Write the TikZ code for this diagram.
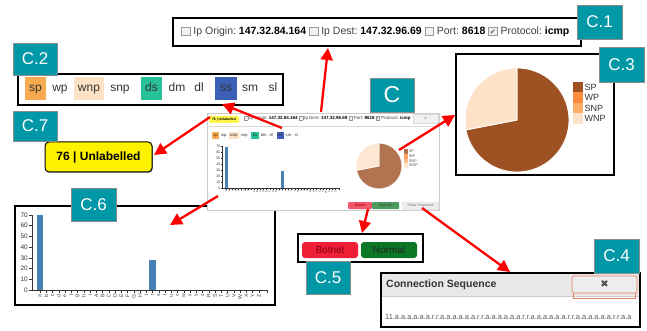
\documentclass[tikz,border=0pt]{standalone}
\usepackage{fontspec}
\setmainfont{Liberation Sans}
\newfontfamily\symfont{DejaVu Sans}
\usetikzlibrary{arrows.meta,shadows}

\definecolor{tealtag}{RGB}{0,151,167}
\definecolor{spc}{RGB}{248,170,80}
\definecolor{wnpc}{RGB}{253,227,196}
\definecolor{dsc}{RGB}{40,192,152}
\definecolor{ssc}{RGB}{60,96,182}
\definecolor{pieSP}{RGB}{158,82,36}
\definecolor{pieWP}{RGB}{253,141,60}
\definecolor{pieSNP}{RGB}{253,174,107}
\definecolor{pieWNP}{RGB}{253,226,200}
\definecolor{barc}{RGB}{70,130,180}
\definecolor{arrowred}{RGB}{255,0,0}
\definecolor{btnred}{RGB}{240,30,55}
\definecolor{btngreen}{RGB}{12,120,38}
\definecolor{btnredtext}{RGB}{130,0,15}
\definecolor{closeedge}{RGB}{228,128,100}

% small form checkboxes, sized relative to the current font
\newcommand\cbx{{\fboxsep=0pt\fboxrule=0.07em\raisebox{-0.05em}{\fcolorbox{black!40}{black!6}{\vrule width 0pt height 0.75em\hspace{0.75em}}}}}
\newcommand\cbxchk{\rlap{\cbx}\hbox to 0.89em{\hss\textcolor{black!60}{\symfont\scalebox{0.7}{✔}}\hss}}
\newcommand\hdrtext{\textcolor{black!75}{\cbx\ Ip Origin:\ \textcolor{black}{\textbf{147.32.84.164}}\ \cbx\ Ip Dest:\ \textcolor{black}{\textbf{147.32.96.69}}\ \cbx\ Port:\ \textcolor{black}{\textbf{8618}}\ \cbxchk\ Protocol:\ \textcolor{black}{\textbf{icmp}}}}

\tikzset{
  teallab/.style={fill=tealtag, draw=black!45, line width=0.5pt, text=white,
    font=\fontsize{17}{17}\selectfont, inner sep=0pt},
  panel/.style={draw=black, line width=1.2pt, fill=white, inner sep=0pt,
    drop shadow={shadow xshift=0.9pt, shadow yshift=-0.9pt, opacity=0.55, fill=black!70}},
  tagcell/.style={inner sep=0pt, minimum height=23pt, font=\fontsize{12}{12}\selectfont,
    text=black!80, text height=8.7pt, text depth=2.5pt},
  ytick/.style={anchor=east, inner sep=0.5pt, font=\fontsize{6.5}{6.5}\selectfont, text=black!80},
  xlab/.style={anchor=east, rotate=90, inner sep=0.5pt, font=\fontsize{5.2}{5.2}\selectfont, text=black!75},
  legtext/.style={anchor=west, inner sep=0.5pt, font=\fontsize{9}{9}\selectfont, text=black!80},
  redarrow/.style={draw=arrowred, line width=2.3pt, -{Triangle[length=12pt,width=12pt]}},
  tinytext/.style={font=\fontsize{3.6}{3.6}\selectfont},
  % row of label tags
  tagrow/.pic={
    \node[tagcell,fill=spc,minimum width=21pt] (sp) at (0,0) {sp};
    \node[tagcell] (wp) at (24.5,0) {wp};
    \node[tagcell,fill=wnpc,minimum width=30pt] (wnp) at (53.5,0) {wnp};
    \node[tagcell] (snp) at (84.5,0) {snp};
    \node[tagcell,fill=dsc,minimum width=21pt] (ds) at (116,0) {ds};
    \node[tagcell] (dm) at (141.5,0) {dm};
    \node[tagcell] (dl) at (163.5,0) {dl};
    \node[tagcell,fill=ssc,minimum width=22pt] (ss) at (190.5,0) {ss};
    \node[tagcell] (sm) at (214.5,0) {sm};
    \node[tagcell] (sl) at (237.5,0) {sl};
  },
  % letter histogram
  barchart/.pic={
    \fill[barc] (5,0) rectangle (11,-75);
    \fill[barc] (117,0) rectangle (124,-30);
    \draw[black!80, line width=0.6pt] (-3,-75) -- (0,-75) -- (0,0) -- (235,0) -- (235,3);
    \foreach \v in {0,10,...,70} {
      \draw[black!80, line width=0.5pt] (0,-\v*75/70) -- (-3,-\v*75/70);
      \node[ytick] (yt\v) at (-3.5,-\v*75/70) {\v};
    }
    \foreach \l [count=\i from 0] in {a,b,c,d,e,f,g,h,i,A,B,C,D,E,F,G,H,I,r,s,t,u,v,w,x,y,z,R,S,T,U,V,W,X,Y,Z} {
      \draw[black!80, line width=0.5pt] (8+\i*6.25,0) -- (8+\i*6.25,3);
      \node[xlab] (xl\i) at (8+\i*6.25,3.5) {\l};
    }
  },
  % state pie with legend
  piechart/.pic={
    \filldraw[fill=pieSP, draw=white, line width=0.8pt] (0,0) -- (-191:52)
      arc[start angle=-191, end angle=-450, radius=52] -- cycle;
    \filldraw[fill=pieWNP, draw=white, line width=0.8pt] (0,0) -- (-90:52)
      arc[start angle=-90, end angle=-191, radius=52] -- cycle;
    \fill[pieSP] (56,-38) rectangle (66,-27.5);
    \fill[pieWP] (56,-27.5) rectangle (66,-17);
    \fill[pieSNP] (56,-17) rectangle (66,-6.5);
    \fill[pieWNP] (56,-6.5) rectangle (66,4);
    \node[legtext] (lsp) at (67,-32.75) {SP};
    \node[legtext] (lwp) at (67,-22.25) {WP};
    \node[legtext] (lsnp) at (67,-11.75) {SNP};
    \node[legtext] (lwnp) at (67,-1.25) {WNP};
  },
}

\begin{document}
\begin{tikzpicture}[x=1pt,y=-1pt]
\useasboundingbox (0,0) rectangle (647,331);

% ---------- zoomed panels ----------
\node[panel, minimum width=408pt, minimum height=28pt] (p1) at (377,32) {};
\node[anchor=west, inner sep=0pt, font=\fontsize{10.5}{12}\selectfont] (hdr) at (181,32) {\hdrtext};

\node[panel, minimum width=265pt, minimum height=31pt] (p2) at (150.5,89.5) {};
\pic (tg) at (35.5,88.5) {tagrow};

\node[panel, minimum width=158pt, minimum height=121pt] (p3) at (535,114.5) {};
\pic (pie) at (517,120) {piechart};

\node[panel, minimum width=260pt, minimum height=99pt] (p6) at (145,255.5) {};
\pic (bars) at (32,290) {barchart};

\node[panel, minimum width=125pt, minimum height=28pt] (p5) at (360.5,248) {};
\node[fill=btnred, rounded corners=3pt, minimum width=56pt, minimum height=16pt, inner sep=0pt,
  text=btnredtext, font=\fontsize{10}{10}\selectfont] (botnet) at (330,250) {Botnet};
\node[fill=btngreen, rounded corners=3pt, minimum width=56pt, minimum height=16pt, inner sep=0pt,
  text=black!85, font=\fontsize{10}{10}\selectfont] (normal) at (389,250) {Normal};

\node[panel, minimum width=259pt, minimum height=54pt] (p4) at (510.5,300) {};
\fill[black!9] (381.6,273.6) rectangle (639.4,296);
\draw[black!20, line width=0.5pt] (381.6,296) -- (639.4,296);
\node[anchor=west, inner sep=0pt, text=black!80, font=\bfseries\fontsize{10.5}{10.5}\selectfont] (cstitle) at (386,285) {Connection Sequence};
\draw[closeedge, line width=0.6pt] (573,281) rectangle (635,298);
\node[fill=black!7, draw=closeedge, line width=0.7pt, rounded corners=1.5pt, minimum width=65pt,
  minimum height=17pt, inner sep=0pt, text=black!70, font=\symfont\fontsize{10}{10}\selectfont] (close) at (604.5,284.5) {✖};
\node[anchor=west, inner sep=0pt, text=black!65, font=\fontsize{7.4}{7.4}\selectfont] (seq) at (385,317)
  {11.a.a.a.a.a.a.r.r.a.a.a.a.a.a.r.r.a.a.a.a.a.a.r.r.a.a.a.a.a.a.r.r.a.a.a.a.a.a.r.r.a.a};

\node[draw=black, line width=1pt, fill=yellow, rounded corners=4pt, minimum width=107pt,
  minimum height=30pt, inner sep=0pt, font=\bfseries\fontsize{12}{12}\selectfont,
  drop shadow={shadow xshift=0.8pt, shadow yshift=-0.8pt, opacity=0.5, fill=black!70}] (unl) at (98.5,157) {76 | Unlabelled};

% ---------- full view thumbnail ----------
\node[draw=black!20, line width=0.6pt, fill=white, minimum width=232pt, minimum height=97pt, inner sep=0pt] (screen) at (323,161.5) {};
\draw[black!15, line width=0.4pt] (208,126) -- (438,126);
\node[fill=yellow!70, rounded corners=1.5pt, minimum width=30pt, minimum height=7pt, inner sep=0pt,
  font=\bfseries\fontsize{3.4}{3.4}\selectfont] (mlab) at (224,119.5) {76 | Unlabelled};
\node[anchor=west, inner sep=0pt, font=\fontsize{4.5}{5}\selectfont] (mhdr) at (244,118.5) {\hdrtext};
\node[fill=black!6, draw=black!15, line width=0.4pt, minimum width=25pt, minimum height=9pt, inner sep=0pt,
  text=black!60, font=\fontsize{4}{4}\selectfont] (mx) at (425.5,118.5) {x};
\pic[scale=0.34, transform shape] (mtg) at (215.5,135.5) {tagrow};
\pic[xscale=0.5, yscale=0.55, transform shape] (mbars) at (222,188) {barchart};
\pic[scale=0.44, transform shape, opacity=0.8] (mpie) at (379,166) {piechart};
\node[fill=btnred!75, rounded corners=1pt, minimum width=24pt, minimum height=7pt, inner sep=0pt,
  text=btnredtext, tinytext] (mbot) at (360,205.5) {Botnet};
\node[fill=btngreen!75, rounded corners=1pt, minimum width=27pt, minimum height=7pt, inner sep=0pt,
  text=black!80, tinytext] (mnor) at (385.5,205.5) {Normal};
\node[fill=black!7, draw=black!15, line width=0.4pt, rounded corners=1pt, minimum width=37pt, minimum height=8pt,
  inner sep=0pt, text=black!55, tinytext] (mshow) at (420.5,206) {Show Sequence};

% ---------- section labels ----------
\node[teallab, minimum width=45pt, minimum height=34pt] (lc1) at (599.5,22) {C.1};
\node[teallab, minimum width=44pt, minimum height=32pt] (lc2) at (35,59) {C.2};
\node[teallab, minimum width=45pt, minimum height=35pt] (lc3) at (621.5,64.5) {C.3};
\node[teallab, minimum width=45pt, minimum height=34pt] (lc4) at (616.5,256) {C.4};
\node[teallab, minimum width=44pt, minimum height=33pt] (lc5) at (328,277.5) {C.5};
\node[teallab, minimum width=45pt, minimum height=33pt] (lc6) at (93.5,204.5) {C.6};
\node[teallab, minimum width=44pt, minimum height=30pt] (lc7) at (35,126) {C.7};
\node[teallab, minimum width=44pt, minimum height=34pt, font=\fontsize{23}{23}\selectfont] (lc) at (392,95) {C};

% ---------- pointers from the thumbnail to the zoomed parts ----------
\coordinate (s1) at (321,112);  \coordinate (e1) at (328,48);
\coordinate (s2) at (282,128);  \coordinate (e2) at (222,104);
\coordinate (s3) at (210,117);  \coordinate (e3) at (154,155);
\coordinate (s4) at (399,150);  \coordinate (e4) at (455,115);
\coordinate (s5) at (218,196);  \coordinate (e5) at (170,225);
\coordinate (s6) at (368,209);  \coordinate (e6) at (362,233);
\coordinate (s7) at (422,208);  \coordinate (e7) at (510,272);
\draw[redarrow] (s1) -- (e1);
\draw[redarrow] (s2) -- (e2);
\draw[redarrow] (s3) -- (e3);
\draw[redarrow] (s4) -- (e4);
\draw[redarrow] (s5) -- (e5);
\draw[redarrow] (s6) -- (e6);
\draw[redarrow] (s7) -- (e7);
\end{tikzpicture}
\end{document}
